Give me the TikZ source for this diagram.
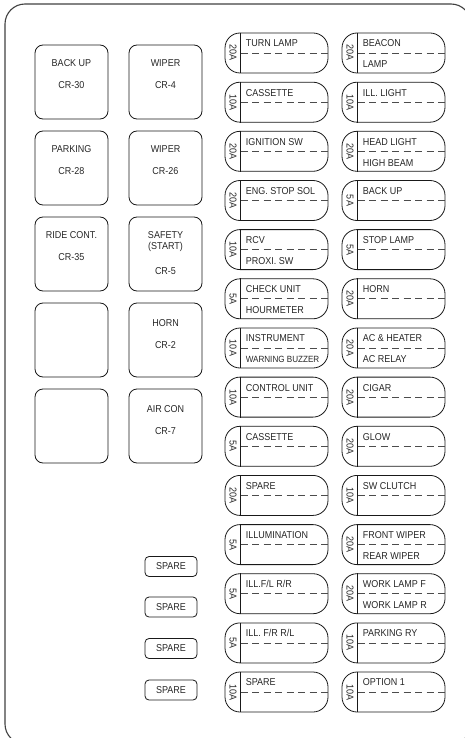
\documentclass[tikz,border=0pt]{standalone}
\usepackage{fontspec}
\setmainfont{Liberation Sans}[FakeStretch=0.9]
\begin{document}
\begin{tikzpicture}[x=1pt,y=-1pt,
  every node/.style={font=\fontsize{10}{11}\selectfont, inner sep=0pt, text=black!85},
  fusebox/.style={draw=black!90, line width=0.8pt, rounded corners=15pt, minimum width=103pt, minimum height=40pt},
  relaybox/.style={draw=black!90, line width=0.8pt, rounded corners=8pt, minimum width=73pt, minimum height=74pt},
  sparebox/.style={draw=black!90, line width=0.8pt, rounded corners=4pt, minimum width=52pt, minimum height=20pt},
  divline/.style={draw=black!90, line width=0.8pt},
  dashline/.style={draw=black!70, line width=0.8pt, dash pattern=on 7pt off 4.5pt},
  outline/.style={draw=black!75, line width=1.1pt, rounded corners=20pt}]
\useasboundingbox (0,0) rectangle (465,738);
\clip (0,0) rectangle (465,738);
\draw[outline] (5,4) rectangle (471,744);

\newcommand\fuse[6]{%
  \node[fusebox] (#1) at (#2+51.5,#3+20) {};
  \draw[divline] ([xshift=16pt]#1.north west) -- ([xshift=16pt]#1.south west);
  \draw[dashline] ([xshift=16pt]#1.west) -- (#1.east);
  \node[rotate=-90] (#1r) at ([xshift=8.5pt]#1.west) {#4};
  \node[anchor=west] (#1t) at ([xshift=21pt,yshift=9.5pt]#1.west) {#5};
  \node[anchor=west] (#1b) at ([xshift=21pt,yshift=-11.5pt]#1.west) {#6};
}
\newcommand\relay[3]{%
  \node[relaybox] (#1) at (#2+36.5,#3+37) {};
}

% relays
\relay{r1}{35}{45}
\node (r1a) at ([yshift=-18pt]r1.north) {BACK UP};
\node (r1b) at ([yshift=-40pt]r1.north) {CR-30};
\relay{r2}{129}{45}
\node (r2a) at ([yshift=-18pt]r2.north) {WIPER};
\node (r2b) at ([yshift=-40pt]r2.north) {CR-4};
\relay{r3}{35}{131}
\node (r3a) at ([yshift=-18pt]r3.north) {PARKING};
\node (r3b) at ([yshift=-40pt]r3.north) {CR-28};
\relay{r4}{129}{131}
\node (r4a) at ([yshift=-18pt]r4.north) {WIPER};
\node (r4b) at ([yshift=-40pt]r4.north) {CR-26};
\relay{r5}{35}{217}
\node (r5a) at ([yshift=-18pt]r5.north) {RIDE CONT.};
\node (r5b) at ([yshift=-40pt]r5.north) {CR-35};
\relay{r6}{129}{217}
\node (r6a) at ([yshift=-18pt]r6.north) {SAFETY};
\node (r6c) at ([yshift=-30pt]r6.north) {(START)};
\node (r6b) at ([yshift=-54pt]r6.north) {CR-5};
\relay{r7}{35}{303}
\relay{r8}{129}{303}
\node (r8a) at ([yshift=-20pt]r8.north) {HORN};
\node (r8b) at ([yshift=-42pt]r8.north) {CR-2};
\relay{r9}{35}{389}
\relay{r10}{129}{389}
\node (r10a) at ([yshift=-20pt]r10.north) {AIR CON};
\node (r10b) at ([yshift=-42pt]r10.north) {CR-7};

% spare buttons
\node[sparebox] (s1) at (171,566.5) {SPARE};
\node[sparebox] (s2) at (171,607) {SPARE};
\node[sparebox] (s3) at (171,648.5) {SPARE};
\node[sparebox] (s4) at (171,690) {SPARE};

% left fuse column
\fuse{a1}{225}{33}{20A}{TURN LAMP}{}
\fuse{a2}{225}{82.2}{10A}{CASSETTE}{}
\fuse{a3}{225}{131.3}{20A}{IGNITION SW}{}
\fuse{a4}{225}{180.5}{20A}{ENG. STOP SOL}{}
\fuse{a5}{225}{229.6}{10A}{RCV}{PROXI. SW}
\fuse{a6}{225}{278.8}{5A}{CHECK UNIT}{HOURMETER}
\fuse{a7}{225}{328}{10A}{INSTRUMENT}{\fontsize{9}{10}\selectfont WARNING BUZZER}
\fuse{a8}{225}{377.1}{10A}{CONTROL UNIT}{}
\fuse{a9}{225}{426.3}{5A}{CASSETTE}{}
\fuse{a10}{225}{475.4}{20A}{SPARE}{}
\fuse{a11}{225}{524.6}{5A}{ILLUMINATION}{}
\fuse{a12}{225}{573.7}{5A}{ILL.F/L R/R}{}
\fuse{a13}{225}{622.9}{5A}{ILL. F/R R/L}{}
\fuse{a14}{225}{672}{10A}{SPARE}{}

% right fuse column
\fuse{b1}{342}{33}{20A}{BEACON}{LAMP}
\fuse{b2}{342}{82.2}{10A}{ILL. LIGHT}{}
\fuse{b3}{342}{131.3}{20A}{HEAD LIGHT}{HIGH BEAM}
\fuse{b4}{342}{180.5}{5A}{BACK UP}{}
\fuse{b5}{342}{229.6}{5A}{STOP LAMP}{}
\fuse{b6}{342}{278.8}{20A}{HORN}{}
\fuse{b7}{342}{328}{20A}{AC \& HEATER}{AC RELAY}
\fuse{b8}{342}{377.1}{20A}{CIGAR}{}
\fuse{b9}{342}{426.3}{20A}{GLOW}{}
\fuse{b10}{342}{475.4}{10A}{SW CLUTCH}{}
\fuse{b11}{342}{524.6}{20A}{FRONT WIPER}{REAR WIPER}
\fuse{b12}{342}{573.7}{20A}{WORK LAMP F}{WORK LAMP R}
\fuse{b13}{342}{622.9}{10A}{PARKING RY}{}
\fuse{b14}{342}{672}{10A}{OPTION 1}{}
\end{tikzpicture}
\end{document}
